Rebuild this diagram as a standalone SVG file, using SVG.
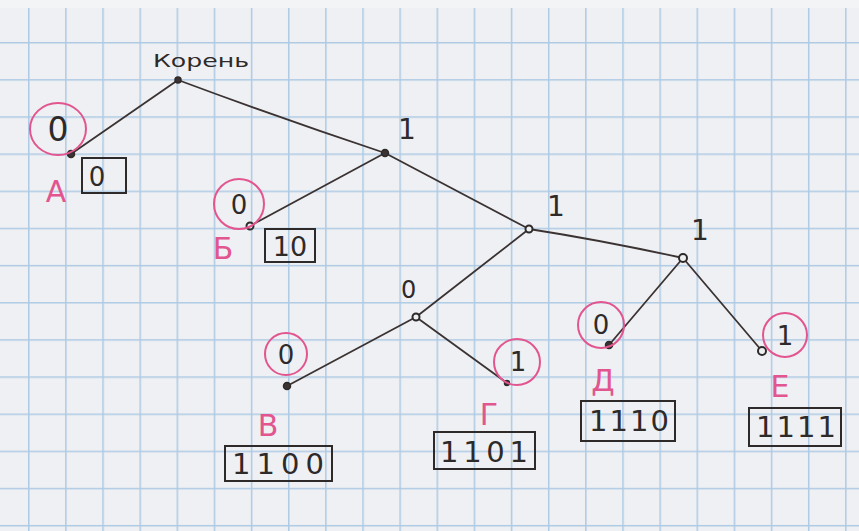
<svg xmlns="http://www.w3.org/2000/svg" width="859" height="531" viewBox="0 0 859 531">
<style>
.ink{fill:none;stroke:#3b3232;stroke-width:1.8;stroke-linecap:round;stroke-linejoin:round}
.pk{fill:none;stroke:#e2558f;stroke-width:2}
.pt{fill:#e2558f;font-family:"DejaVu Sans",sans-serif}
.bt{fill:#2e2a2a;font-family:"DejaVu Sans",sans-serif}
.box{fill:none;stroke:#2e2a2a;stroke-width:2}
.dot{fill:#3b3232;stroke:#2e2a2a;stroke-width:1.5}
.hol{fill:#eef0f2;stroke:#2e2a2a;stroke-width:2}
</style>
<defs>
<pattern id="grid" patternUnits="userSpaceOnUse" x="28" y="4.85" width="37.14" height="37.15">
<rect width="37.14" height="37.15" fill="#eef0f3"/>
<path d="M0.7 0V37.15M0 0.7H37.14" stroke="#aecae4" stroke-width="1.6"/>
</pattern>
</defs>
<rect width="859" height="531" fill="url(#grid)"/>
<rect width="859" height="8" fill="#f3f4f5"/>
<g id="connectors">
<path class="ink" d="M178 80 L71 154"/>
<path class="ink" d="M178 80 Q280 118 385 153"/>
<path class="ink" d="M385 153 L250 226"/>
<path class="ink" d="M385 153 L529 229"/>
<path class="ink" d="M529 229 L416 317"/>
<path class="ink" d="M529 229 Q600 240 683 258"/>
<path class="ink" d="M416 317 L287 386"/>
<path class="ink" d="M416 317 L507 383"/>
<path class="ink" d="M683 258 L609 345"/>
<path class="ink" d="M683 258 L762 351"/>
</g>
<g id="root">
<circle class="dot" cx="178" cy="80" r="3"/>
<text class="bt" x="153" y="67" font-size="18" textLength="96" lengthAdjust="spacingAndGlyphs">Корень</text>
</g>
<g id="n1">
<circle class="dot" cx="385" cy="153" r="3.5"/>
<text class="bt" x="398" y="139" font-size="28">1</text>
</g>
<g id="n2">
<circle class="hol" cx="529" cy="229" r="3.5"/>
<text class="bt" x="547" y="216" font-size="28">1</text>
</g>
<g id="n3">
<circle class="hol" cx="683" cy="258" r="4"/>
<text class="bt" x="691" y="240" font-size="28">1</text>
</g>
<g id="n0">
<circle class="hol" cx="416" cy="317" r="3.5"/>
<text class="bt" x="401" y="298" font-size="24">0</text>
</g>
<g id="leafA">
<circle class="dot" cx="71" cy="154" r="3.5"/>
<ellipse class="pk" cx="58" cy="129" rx="28" ry="26"/>
<text class="bt" x="58" y="141" font-size="33" text-anchor="middle">0</text>
<text class="pt" x="56" y="202" font-size="30" text-anchor="middle">А</text>
<rect class="box" x="82" y="158" width="44" height="35"/>
<text class="bt" x="97" y="186" font-size="26" text-anchor="middle">0</text>
</g>
<g id="leafB">
<circle class="hol" cx="250" cy="226" r="3.5"/>
<circle class="pk" cx="239" cy="204" r="25"/>
<text class="bt" x="239" y="214" font-size="26" text-anchor="middle">0</text>
<text class="pt" x="223" y="259" font-size="30" text-anchor="middle">Б</text>
<rect class="box" x="265" y="229" width="50" height="33"/>
<text class="bt" x="290" y="256" font-size="27" text-anchor="middle">10</text>
</g>
<g id="leafV">
<circle class="dot" cx="287" cy="386" r="3.5"/>
<circle class="pk" cx="286" cy="354" r="21"/>
<text class="bt" x="286" y="364" font-size="26" text-anchor="middle">0</text>
<text class="pt" x="268" y="436" font-size="30" text-anchor="middle">В</text>
<rect class="box" x="225" y="446" width="107" height="35"/>
<text class="bt" x="232" y="474" font-size="29" textLength="92" lengthAdjust="spacing">1100</text>
</g>
<g id="leafG">
<circle class="dot" cx="507" cy="383" r="2.5"/>
<circle class="pk" cx="517" cy="362" r="23"/>
<text class="bt" x="518" y="371" font-size="26" text-anchor="middle">1</text>
<text class="pt" x="489" y="425" font-size="30" text-anchor="middle">Г</text>
<rect class="box" x="434" y="432" width="101" height="37"/>
<text class="bt" x="440" y="462" font-size="29" textLength="88" lengthAdjust="spacing">1101</text>
</g>
<g id="leafD">
<circle class="dot" cx="609" cy="345" r="3.5"/>
<circle class="pk" cx="601" cy="325" r="23"/>
<text class="bt" x="601" y="334" font-size="26" text-anchor="middle">0</text>
<text class="pt" x="603" y="391" font-size="30" text-anchor="middle">Д</text>
<rect class="box" x="581" y="401" width="94" height="40"/>
<text class="bt" x="589" y="431" font-size="29" textLength="80" lengthAdjust="spacing">1110</text>
</g>
<g id="leafE">
<circle class="hol" cx="762" cy="351" r="4"/>
<circle class="pk" cx="785" cy="335" r="22"/>
<text class="bt" x="785" y="345" font-size="26" text-anchor="middle">1</text>
<text class="pt" x="780" y="397" font-size="30" text-anchor="middle">Е</text>
<rect class="box" x="749" y="408" width="92" height="38"/>
<text class="bt" x="756" y="437" font-size="29" textLength="80" lengthAdjust="spacing">1111</text>
</g>
</svg>
